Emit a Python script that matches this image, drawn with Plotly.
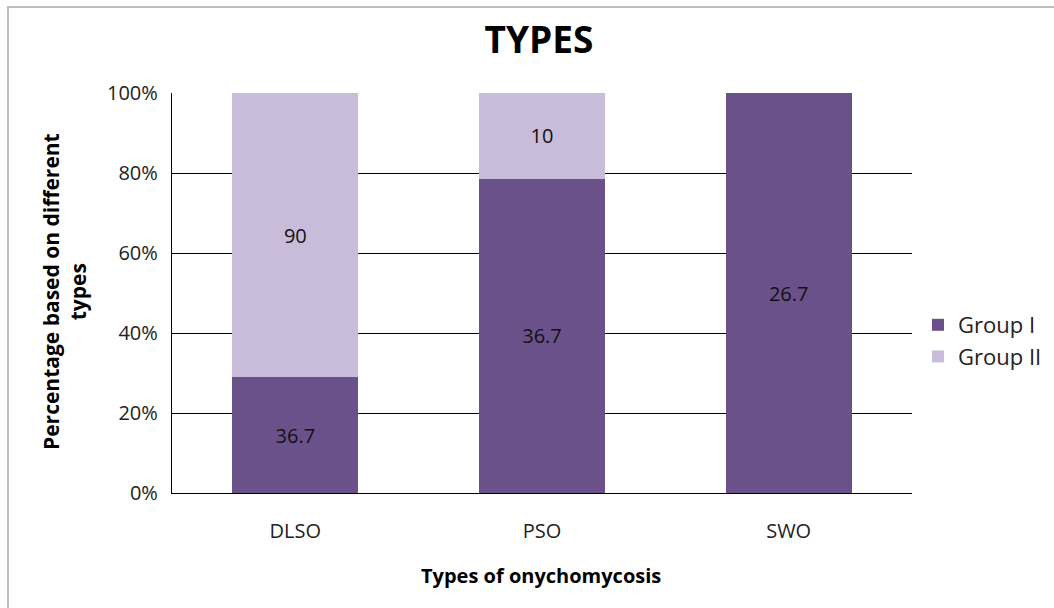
import plotly.graph_objects as go

categories = ["DLSO", "PSO", "SWO"]
group1 = [36.7, 36.7, 26.7]
group2 = [90, 10, 0]

c1 = "#6B5189"
c2 = "#C9BCDA"
font = "Open Sans, Liberation Sans, sans-serif"

def labels(vals):
    return [("" if v == 0 else f"{v:g}") for v in vals]

fig = go.Figure()
fig.add_trace(go.Bar(name="Group I", x=categories, y=group1, marker_color=c1,
                     text=labels(group1), textposition="inside", insidetextanchor="middle",
                     textfont=dict(color="#111", size=20, family=font), legendgroup="g1",
                     marker_line_width=0, hoverinfo="skip"))
fig.add_trace(go.Bar(name="Group II", x=categories, y=group2, marker_color=c2,
                     text=labels(group2), textposition="inside", insidetextanchor="middle",
                     textfont=dict(color="#111", size=20, family=font), legendgroup="g2",
                     marker_line_width=0, hoverinfo="skip"))

L, R, T, B = 172, 142, 93, 115
PW, PH = 1054 - L - R, 608 - T - B

fig.update_layout(
    barmode="stack", barnorm="percent", bargap=0.49,
    width=1054, height=608,
    margin=dict(l=L, r=R, t=T, b=B, autoexpand=False),
    paper_bgcolor="white", plot_bgcolor="white",
    font=dict(family=font, size=20, color="#222"),
    title=dict(text="<b>TYPES</b>", x=539 / 1054, xanchor="center", y=1 - 40 / 608, yanchor="middle",
               font=dict(size=37, color="black", family=font)),
    legend=dict(x=(918 - L) / PW, y=(493 - 341) / PH, xanchor="left", yanchor="middle",
                font=dict(size=22, color="#222"), traceorder="normal", tracegroupgap=3,
                itemwidth=30, bgcolor="rgba(0,0,0,0)"),
    uniformtext=dict(mode="show", minsize=10),
    showlegend=True,
)
fig.update_yaxes(range=[0, 100], dtick=20, ticksuffix="%", showgrid=True, gridcolor="black",
                 gridwidth=1.3, showline=True, linecolor="black", linewidth=1.3,
                 zeroline=False, ticks="", ticklabelstandoff=9, automargin=False,
                 tickfont=dict(size=20, color="#222"))
fig.update_xaxes(showline=True, linecolor="black", linewidth=1.3, ticks="", automargin=False,
                 ticklabelstandoff=20, tickfont=dict(size=20, color="#222"))

fig.add_annotation(text="<b>Percentage based on different<br>types</b>", textangle=-90,
                   xref="paper", yref="paper", x=(64 - L) / PW, y=(493 - 292) / PH,
                   xanchor="center", yanchor="middle", showarrow=False,
                   font=dict(size=21, color="black"))
fig.add_annotation(text="<b>Types of onychomycosis</b>",
                   xref="paper", yref="paper", x=(541 - L) / PW, y=(493 - 575) / PH,
                   xanchor="center", yanchor="middle", showarrow=False,
                   font=dict(size=20, color="black"))

fig.add_shape(type="rect", xref="paper", yref="paper",
              x0=(8 - L) / PW, x1=1.3, y0=-0.5, y1=(493 - 7) / PH,
              line=dict(color="#BDBDBD", width=2), fillcolor="rgba(0,0,0,0)", layer="below")

fig.write_html("out.html", config={"displayModeBar": False},
               post_script="document.body.style.margin='0';")
